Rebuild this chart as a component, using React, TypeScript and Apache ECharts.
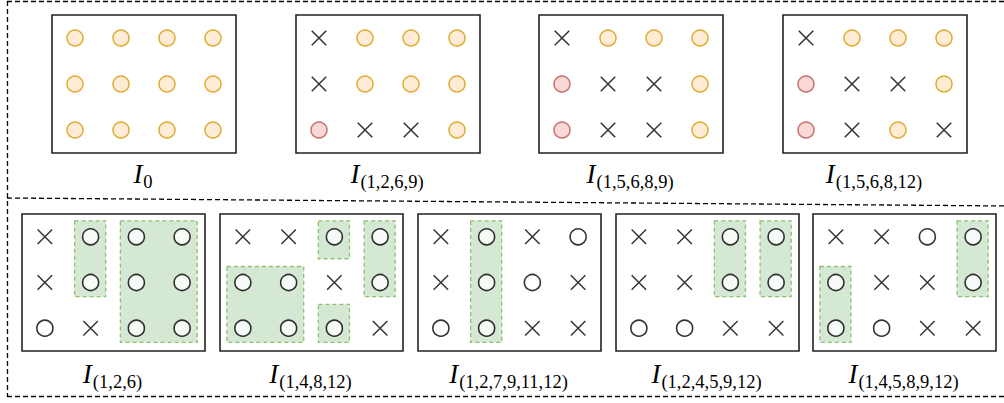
import React, { useEffect, useRef } from 'react';
import * as echarts from 'echarts';

// ---- data ----
const topLabels = ['0', '(1,2,6,9)', '(1,5,6,8,9)', '(1,5,6,8,12)'];
// o = orange circle, r = red circle, x = cross
const topCells = [
  ['oooo', 'oooo', 'oooo'],
  ['xooo', 'xooo', 'rxxo'],
  ['xooo', 'rxxo', 'rxxo'],
  ['xooo', 'rxxo', 'rxox'],
];
const bottomLabels = ['(1,2,6)', '(1,4,8,12)', '(1,2,7,9,11,12)', '(1,2,4,5,9,12)', '(1,4,5,8,9,12)'];
// c = white circle, x = cross
const bottomCells = [
  ['xccc', 'xccc', 'cxcc'],
  ['xxcc', 'ccxc', 'cccx'],
  ['xcxc', 'xccx', 'ccxx'],
  ['xxcc', 'xxcc', 'ccxx'],
  ['xxcc', 'cxxc', 'ccxx'],
];
// green groups: [panel, colStart, colEnd, rowStart, rowEnd, extraTop, extraBottom] (cell units)
const greenGroups = [
  [0, 1, 1, 0, 1, 0, 0],
  [0, 2, 3, 0, 2, 0, 0],
  [1, 2, 2, 0, 0, 0, 0.17],
  [1, 0, 1, 1, 2, 0, 0],
  [1, 2, 2, 2, 2, 0.17, 0],
  [1, 3, 3, 0, 1, 0, 0],
  [2, 1, 1, 0, 2, 0, 0],
  [3, 2, 2, 0, 1, 0, 0],
  [3, 3, 3, 0, 1, 0, 0],
  [4, 0, 0, 1, 2, 0, 0],
  [4, 3, 3, 0, 1, 0, 0],
];

// ---- layout ----
const topLefts = [52, 296, 539, 783];
const bottomLefts = [22, 220, 418, 616, 813];
const TOP_Y = 15;
const BOT_Y = 214;
const PW = 184;
const PH = 138;

const CROSS = 'path://M0,0L10,10M10,0L0,10';

function buildOption() {
  const grids: any[] = [];
  const xAxes: any[] = [];
  const yAxes: any[] = [];
  const series: any[] = [];
  const graphics: any[] = [];

  const panels: { left: number; top: number; w: number; h: number; cells: string[]; label: string; }[] = [];
  topLefts.forEach((l, i) => panels.push({ left: l, top: TOP_Y, w: PW, h: PH, cells: topCells[i], label: topLabels[i] }));
  bottomLefts.forEach((l, i) => panels.push({ left: l, top: BOT_Y, w: PW - 1, h: PH - 1, cells: bottomCells[i], label: bottomLabels[i] }));

  const styles: Record<string, any> = {
    o: { symbol: 'circle', size: 16, itemStyle: { color: '#ffe6cc', borderColor: '#d79b00', borderWidth: 1.5 } },
    r: { symbol: 'circle', size: 16, itemStyle: { color: '#f8cecc', borderColor: '#b85450', borderWidth: 1.5 } },
    c: { symbol: 'circle', size: 16, itemStyle: { color: '#ffffff', borderColor: '#000000', borderWidth: 1.6 } },
    x: { symbol: CROSS, size: 14.5, itemStyle: { color: 'transparent', borderColor: '#000000', borderWidth: 1.5 } },
  };

  panels.forEach((p, i) => {
    grids.push({
      left: p.left, top: p.top, width: p.w, height: p.h,
      show: true, borderColor: '#222', borderWidth: 1.6, backgroundColor: '#fff',
    });
    xAxes.push({ type: 'value', gridIndex: i, min: 0, max: 4, show: false });
    yAxes.push({ type: 'value', gridIndex: i, min: 0, max: 3, inverse: true, show: false });

    // green groups (bottom panels only)
    if (i >= topLefts.length) {
      const bi = i - topLefts.length;
      const rects = greenGroups
        .filter((g) => g[0] === bi)
        .map((g) => [g[1] + 0.15, g[3] + 0.15 - g[5], g[2] + 0.83, g[4] + 0.81 + g[6]]);
      series.push({
        type: 'custom',
        xAxisIndex: i,
        yAxisIndex: i,
        z: 1,
        encode: { x: [0, 2], y: [1, 3] },
        data: rects,
        renderItem: (params: any, api: any) => {
          const p0 = api.coord([api.value(0), api.value(1)]);
          const p1 = api.coord([api.value(2), api.value(3)]);
          return {
            type: 'rect',
            shape: { x: p0[0], y: p0[1], width: p1[0] - p0[0], height: p1[1] - p0[1] },
            style: { fill: '#d5e8d4', stroke: '#8fbf70', lineWidth: 1.3, lineDash: [4, 3] },
          };
        },
      });
    }

    ['o', 'r', 'c', 'x'].forEach((k) => {
      const data: number[][] = [];
      p.cells.forEach((row, r) => {
        row.split('').forEach((ch, c) => {
          if (ch === k) data.push([c + 0.5, r + 0.5]);
        });
      });
      if (!data.length) return;
      series.push({
        type: 'scatter',
        xAxisIndex: i,
        yAxisIndex: i,
        z: 2,
        symbol: styles[k].symbol,
        symbolSize: styles[k].size,
        itemStyle: styles[k].itemStyle,
        data,
        silent: true,
      });
    });

    graphics.push({
      type: 'text',
      x: p.left + p.w / 2 - 1,
      y: (i < topLefts.length ? 160 : 360),
      style: {
        text: '{I|I}{s|' + p.label + '}',
        align: 'center',
        verticalAlign: 'top',
        fill: '#000',
        rich: {
          I: { fontFamily: 'Liberation Serif', fontStyle: 'italic', fontSize: 27, lineHeight: 27, verticalAlign: 'top', fill: '#000', padding: [0, 1, 0, 0] },
          s: { fontFamily: 'Liberation Serif', fontSize: 18.5, lineHeight: 18, padding: [12, 0, 0, 0], verticalAlign: 'top', fill: '#000' },
        },
      },
    });
  });

  const dash = { stroke: '#000', lineWidth: 1.3, lineDash: [5, 3], fill: 'none' };
  graphics.push(
    { type: 'line', shape: { x1: 7, y1: 1.5, x2: 1010, y2: 1.5 }, style: dash },
    { type: 'line', shape: { x1: 7.5, y1: 1, x2: 7.5, y2: 397 }, style: dash },
    { type: 'line', shape: { x1: 7, y1: 198, x2: 1010, y2: 206 }, style: dash },
    { type: 'line', shape: { x1: 7, y1: 396.5, x2: 1010, y2: 396.5 }, style: dash },
  );

  return {
    animation: false,
    backgroundColor: '#fff',
    grid: grids,
    xAxis: xAxes,
    yAxis: yAxes,
    series,
    graphic: graphics,
  };
}

export default function App() {
  const ref = useRef<HTMLDivElement>(null);
  useEffect(() => {
    if (!ref.current) return;
    const chart = echarts.init(ref.current, undefined, { renderer: 'svg' });
    chart.setOption(buildOption() as any);
    return () => chart.dispose();
  }, []);
  return (
    <div
      ref={ref}
      style={{ position: 'absolute', left: 0, top: 0, width: 1004, height: 403, background: '#fff' }}
    />
  );
}
